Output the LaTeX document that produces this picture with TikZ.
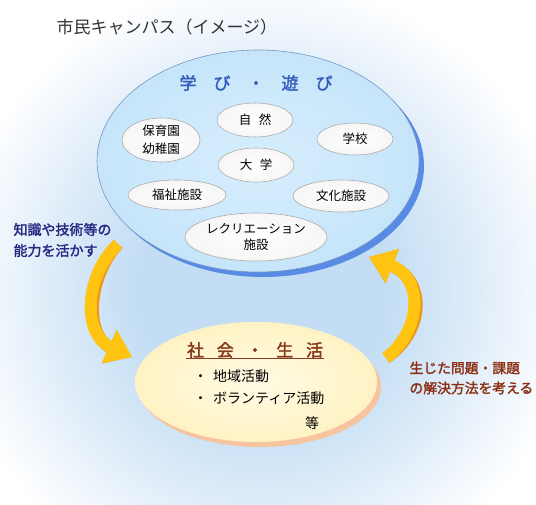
\documentclass[tikz,border=0pt]{standalone}
\usepackage{fontspec}
\setmainfont{Noto Sans CJK JP}[AutoFakeBold=2]
\usetikzlibrary{shapes.geometric,arrows.meta,calc}
\definecolor{bgblue}{RGB}{194,221,244}
\definecolor{bgmid}{RGB}{224,237,249}
\definecolor{bigfill}{RGB}{198,229,250}
\definecolor{bigcenter}{RGB}{214,238,253}
\definecolor{bigshadow}{RGB}{88,140,228}
\definecolor{bigline}{RGB}{120,150,190}
\definecolor{yelfill}{RGB}{255,243,196}
\definecolor{yelcenter}{RGB}{255,251,228}
\definecolor{yelshadow}{RGB}{247,196,160}
\definecolor{arrowY}{RGB}{255,196,18}
\definecolor{arrowO}{RGB}{238,150,24}
\definecolor{titleblue}{RGB}{52,92,188}
\definecolor{navy}{RGB}{40,40,130}
\definecolor{brownred}{RGB}{140,48,20}
\definecolor{socbrown}{RGB}{135,58,30}
\definecolor{titlegray}{RGB}{50,50,50}
\pgfdeclareradialshading{bgshade}{\pgfpoint{0bp}{0bp}}{color(0bp)=(bgblue); color(9bp)=(bgblue); color(16bp)=(bgmid); color(23bp)=(white); color(50bp)=(white)}
\tikzset{
  inell/.style={ellipse, draw=gray!65, line width=0.6pt, inner color=white, outer color=white!93!gray, inner sep=0pt, align=center, font=\fontsize{12.5}{16}\selectfont},
  bigarrow/.style={line width=12pt, -{Triangle[width=35pt,length=25pt]}},
  bulletline/.style={anchor=west, font=\fontsize{14}{16}\selectfont},
}
\begin{document}
\begin{tikzpicture}[x=1pt,y=-1pt]
\useasboundingbox (0,0) rectangle (536,504);
\fill[white] (0,0) rectangle (536,504);
\begin{scope}
\clip (0,0) rectangle (536,504);
\shade[shading=bgshade] (262,290) circle (340pt);
\end{scope}

% title
\node (title) [anchor=west, text=titlegray, font=\fontsize{17}{20}\selectfont] at (53,27) {市民キャンパス（イメージ）};

% big blue ellipse
\node (bigsh) [ellipse, fill=bigshadow, minimum width=322pt, minimum height=222pt, inner sep=0pt] at (263,166) {};
\node (big) [ellipse, draw=bigline, line width=0.6pt, inner color=bigcenter, outer color=bigfill, minimum width=322pt, minimum height=222pt, inner sep=0pt] at (258,161) {};
\node (manabi) [text=titleblue, font=\fontsize{17}{20}\selectfont\bfseries] at (256,83) {学\hspace{1em}び\hspace{1em}・\hspace{1em}遊\hspace{1em}び};

\node (shizen) [inell, minimum width=76pt, minimum height=34pt] at (255,120) {自\hspace{0.6em}然};
\node (hoiku) [inell, minimum width=78pt, minimum height=44pt, font=\fontsize{12.5}{18}\selectfont] at (161,140) {保育園\\幼稚園};
\node (gakko) [inell, minimum width=76pt, minimum height=32pt] at (355,139) {学校};
\node (daigaku) [inell, minimum width=76pt, minimum height=34pt] at (256,165) {大\hspace{0.6em}学};
\node (fukushi) [inell, minimum width=98pt, minimum height=30pt] at (177,195) {福祉施設};
\node (bunka) [inell, minimum width=96pt, minimum height=32pt] at (341,196) {文化施設};
\node (recre) [inell, minimum width=142pt, minimum height=48pt] at (256,237) {レクリエーション\\施設};

% yellow ellipse
\node (yelsh) [ellipse, fill=yelshadow, minimum width=242pt, minimum height=120pt, inner sep=0pt] at (260,387) {};
\node (yel) [ellipse, inner color=yelcenter, outer color=yelfill, minimum width=242pt, minimum height=120pt, inner sep=0pt] at (256,382) {};
\node (shakai) [text=socbrown, font=\fontsize{17}{20}\selectfont\bfseries, inner sep=1pt] at (255,350) {社\hspace{0.75em}会\hspace{0.75em}・\hspace{0.75em}生\hspace{0.75em}活};
\draw[socbrown, line width=1pt] ($(shakai.south west)+(0,-1)$) -- ($(shakai.south east)+(0,-1)$);
\node (b1) [bulletline] at (190,376) {・\hspace{0.4em}地域活動};
\node (b2) [bulletline] at (190,398) {・\hspace{0.4em}ボランティア活動};
\node (tou) [font=\fontsize{14}{16}\selectfont] at (312,423) {等};

% labels
\node (leftlab) [anchor=west, align=left, text=navy, font=\fontsize{14}{21}\selectfont\bfseries] at (10,240) {知識や技術等の\\能力を活かす};
\node (rightlab) [anchor=west, align=left, text=brownred, font=\fontsize{13.8}{20}\selectfont\bfseries] at (406,378) {生じた問題・課題\\の解決方法を考える};

% arrows
\coordinate (ltail) at (118,244);
\coordinate (lhead) at (132,357);
\coordinate (rtail) at (386,358);
\coordinate (rhead) at (369,257);
\begin{scope}[shift={(3,2)}]
\draw[bigarrow, arrowO] (ltail) .. controls (84,276) and (82,334) .. (lhead);
\draw[bigarrow, arrowO] (rtail) .. controls (422,330) and (424,278) .. (rhead);
\end{scope}
\draw[bigarrow, arrowY] (ltail) .. controls (84,276) and (82,334) .. (lhead);
\draw[bigarrow, arrowY] (rtail) .. controls (422,330) and (424,278) .. (rhead);
\end{tikzpicture}
\end{document}
